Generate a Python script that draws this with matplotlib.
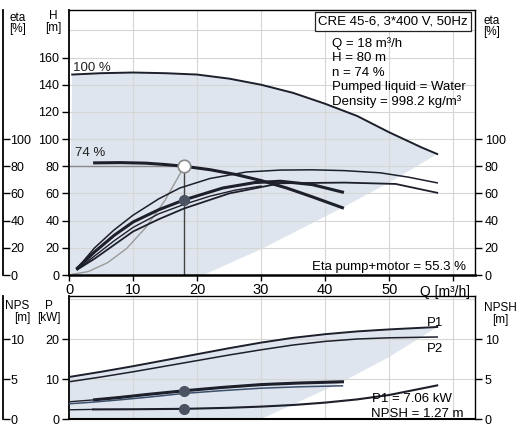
import matplotlib
matplotlib.use("Agg")
import matplotlib.pyplot as plt

plt.rcParams['font.family'] = ['Liberation Sans', 'DejaVu Sans']

W, H = 520, 434

# ---------------- head curves (m) ----------------
q_h100 = [0.5, 5, 10, 15, 20, 25, 30, 35, 40, 45, 50, 55, 57.5]
h_100 = [147.5, 148.5, 149, 148.5, 147.5, 144.5, 140, 134, 126, 117, 105, 94, 89]

q_h74 = [4, 8, 12, 15, 18, 22, 26, 30, 34, 38, 42.7]
h_74 = [82.5, 82.7, 82.3, 81.3, 80, 77.5, 74, 69.5, 64, 57.5, 49.5]

# system curve through the duty point
q_sys = [0.5, 3, 6, 9, 12, 15, 18]
h_sys = [0.5, 2.5, 9, 19.5, 35, 55, 80]

# right-hand limit of the operating area
q_edge_h = [21, 30, 40, 42.7, 50, 57.5]
h_edge = [0, 19, 43, 49.5, 68, 89]

# ---------------- efficiency curves (%) ----------------
q_eta_a = [1.3, 4, 7, 10, 14, 17.3, 22, 27.7, 33, 38, 43, 48.6, 53, 57.5]
eta_a = [5, 20, 33, 44, 56, 64, 71, 75.8, 77.2, 77.4, 76.8, 75.2, 72, 67.8]

q_eta_b = [1.3, 4, 7, 10, 14, 18, 25, 33, 43, 51, 57.5]
eta_b = [4, 12, 22, 32, 41, 49, 60, 67.5, 68, 67, 60.5]

q_eta_c = [1.3, 4, 7, 10, 14, 18, 24, 29, 33, 38, 42.7]
eta_c = [5, 17, 29, 39, 48, 55.3, 64, 68, 69, 66.5, 61]

q_eta_d = [1.3, 4, 7, 10, 14, 18, 22, 26, 30]
eta_d = [4, 14, 25, 35, 45, 52, 58, 62.5, 65.5]

# ---------------- power curves (kW) ----------------
q_p100 = [0, 5, 10, 15, 20, 25, 30, 35, 40, 45, 50, 57.5]
p1_100 = [10.5, 11.8, 13.2, 14.7, 16.2, 17.7, 19.1, 20.3, 21.2, 21.9, 22.4, 23.0]
p2_100 = [9.3, 10.5, 11.8, 13.2, 14.6, 16.0, 17.3, 18.5, 19.4, 20.0, 20.3, 20.5]

q_p74 = [0, 4, 8, 12, 18, 24, 30, 36, 42.7]
p1_74 = [4.3, 4.8, 5.4, 6.1, 7.06, 7.9, 8.6, 9.0, 9.3]
p2_74 = [3.8, 4.25, 4.8, 5.4, 6.4, 7.1, 7.7, 8.05, 8.3]

q_edge_p = [30, 42.7, 50, 57.5]
p_edge = [0, 9.3, 15.5, 23.0]

# ---------------- NPSH (m) ----------------
q_npsh = [0, 3.8, 10, 18, 25, 30, 35, 40, 45, 50, 57.5]
npsh = [1.15, 1.2, 1.22, 1.27, 1.4, 1.55, 1.75, 2.05, 2.45, 3.0, 4.2]

# duty point
q_duty, h_duty, eta_duty, p1_duty, npsh_duty = 18, 80, 55.3, 7.06, 1.27

x_ticks = [0, 10, 20, 30, 40, 50]
h_ticks = [0, 20, 40, 60, 80, 100, 120, 140, 160]
eta_ticks = [0, 20, 40, 60, 80, 100]
p_ticks = [0, 10, 20]
npsh_ticks = [0, 5, 10]

info_lines = ["Q = 18 m³/h", "H = 80 m", "n = 74 %",
              "Pumped liquid = Water", "Density = 998.2 kg/m³"]

LINE = '#1d1f2b'
SHADE = '#dfe5ee'
GRID = '#d6d6d6'
XMAX = 63.4
HMAX = 195
PMAX = 30.75


def fx(x):
    return x / W


def fy(y):
    return 1 - y / H


fig = plt.figure(figsize=(W / 100, H / 100), dpi=100)
fig.patch.set_facecolor('white')

top_rect = [fx(69), fy(275), 406 / W, 265 / H]
bot_rect = [fx(69), fy(419), 406 / W, 123 / H]

# ================= upper chart: head & efficiency =================
ax = fig.add_axes(top_rect)
ax.set_xlim(0, XMAX)
ax.set_ylim(0, HMAX)

ax.fill([0] + q_h100 + q_edge_h[::-1], [0] + h_100 + h_edge[::-1],
        color=SHADE, lw=0, zorder=0)

for q in range(10, 61, 10):
    ax.axvline(q, color=GRID, lw=0.8, zorder=1)
for h in range(20, 181, 20):
    ax.axhline(h, color=GRID, lw=0.8, zorder=1)

ax.plot(q_h100, h_100, color=LINE, lw=1.4, zorder=3)
ax.plot(q_h74, h_74, color=LINE, lw=2.2, zorder=3)
ax.plot(q_eta_a, eta_a, color=LINE, lw=1.1, zorder=3)
ax.plot(q_eta_b, eta_b, color=LINE, lw=1.3, zorder=3)
ax.plot(q_eta_d, eta_d, color=LINE, lw=1.0, zorder=3)
ax.plot(q_eta_c, eta_c, color=LINE, lw=2.2, zorder=3)
ax.plot(q_sys, h_sys, color='#9a9a9a', lw=1.0, zorder=2)
ax.plot([0, q_duty], [h_duty, h_duty], color='#8a8a8a', lw=1.0, zorder=2)
ax.plot([q_duty, q_duty], [0, h_duty], color='#444444', lw=1.0, zorder=2)
ax.plot([q_duty], [h_duty], marker='o', ms=9, mfc='white', mec='#8a8a8a',
        mew=1.2, zorder=5)
ax.plot([q_duty], [eta_duty], marker='o', ms=7, color='#4b5262', zorder=5)

ax.text(0.6, 152, "100 %", fontsize=9.5, va='center', ha='left', color='#222222')
ax.text(0.9, 90, "74 %", fontsize=9.5, va='center', ha='left', color='#222222')

ax.set_xticks(x_ticks + [60])
ax.set_xticklabels([str(v) for v in x_ticks] + [''])
ax.set_yticks(h_ticks)
ax.tick_params(axis='x', direction='out', length=4, width=1, labelsize=10.5, pad=1.5)
ax.tick_params(axis='y', direction='out', length=5, width=1, labelsize=9, pad=2)
for s in ax.spines.values():
    s.set_linewidth(1.0)
ax.spines['bottom'].set_linewidth(1.8)
ax.spines['left'].set_linewidth(1.3)

ax_r = ax.twinx()
ax_r.set_ylim(0, HMAX)
ax_r.set_yticks(eta_ticks)
ax_r.tick_params(axis='y', direction='out', length=5, width=1, labelsize=9, pad=2)
for s in ax_r.spines.values():
    s.set_visible(False)

fig.text(fx(420), fy(292), "Q [m³/h]", fontsize=10, ha='left', va='center')
fig.text(fx(312), fy(267), "Eta pump+motor = 55.3 %", fontsize=9.5,
         ha='left', va='center')
fig.text(fx(318), fy(21.5), "CRE 45-6, 3*400 V, 50Hz", fontsize=9.5,
         ha='left', va='center',
         bbox=dict(boxstyle='square,pad=0.25', fc='white', ec='#222222', lw=0.9))
for i, line in enumerate(info_lines):
    fig.text(fx(332), fy(44 + 14.4 * i), line, fontsize=9.5, ha='left', va='center')

# ================= lower chart: power & NPSH =================
bx = fig.add_axes(bot_rect)
bx.set_xlim(0, XMAX)
bx.set_ylim(0, PMAX)

bx.fill(q_p100 + q_edge_p[::-1] + [0], p1_100 + p_edge[::-1] + [0],
        color=SHADE, lw=0, zorder=0)
for q in range(10, 61, 10):
    bx.axvline(q, color=GRID, lw=0.8, zorder=1)
for p in (10, 20, 30):
    bx.axhline(p, color=GRID, lw=0.8, zorder=1)

bx.plot(q_p100, p1_100, color=LINE, lw=1.4, zorder=3)
bx.plot(q_p100, p2_100, color=LINE, lw=1.1, zorder=3)
bx.plot(q_p74[:2], p1_74[:2], color=LINE, lw=1.0, zorder=3)
bx.plot(q_p74[1:], p1_74[1:], color=LINE, lw=2.2, zorder=3)
bx.plot(q_p74, p2_74, color='#3b4f6b', lw=1.1, zorder=3)
bx.plot([q_duty], [p1_duty], marker='o', ms=7, color='#4b5262', zorder=5)

bx.set_xticks([])
bx.set_yticks(p_ticks)
bx.tick_params(axis='y', direction='out', length=5, width=1, labelsize=9, pad=2)
for s in bx.spines.values():
    s.set_linewidth(1.0)
bx.spines['bottom'].set_linewidth(1.5)
bx.spines['left'].set_linewidth(1.3)

bn = bx.twinx()
bn.set_ylim(0, PMAX / 2)
bn.set_yticks(npsh_ticks)
bn.tick_params(axis='y', direction='out', length=5, width=1, labelsize=9, pad=2)
for s in bn.spines.values():
    s.set_visible(False)
bn.plot(q_npsh[:2], npsh[:2], color=LINE, lw=1.0, zorder=3)
bn.plot(q_npsh[1:], npsh[1:], color=LINE, lw=1.5, zorder=3)
bn.plot([q_duty], [npsh_duty], marker='o', ms=7, color='#4b5262', zorder=5)

fig.text(fx(427), fy(323), "P1", fontsize=9.5, ha='left', va='center')
fig.text(fx(427), fy(349), "P2", fontsize=9.5, ha='left', va='center')
fig.text(fx(372), fy(399), "P1 = 7.06 kW", fontsize=9.5, ha='left', va='center')
fig.text(fx(371), fy(414), "NPSH = 1.27 m", fontsize=9.5, ha='left', va='center')


# ================= outer left scales =================
def outer_scale(rect, top, ticks):
    a = fig.add_axes(rect)
    a.set_ylim(0, top)
    a.set_yticks(ticks)
    a.patch.set_visible(False)
    for s in ('top', 'right', 'bottom'):
        a.spines[s].set_visible(False)
    a.spines['left'].set_linewidth(1.3)
    a.xaxis.set_visible(False)
    a.tick_params(axis='y', direction='in', length=5, width=1, left=True,
                  right=False, labelleft=False, labelright=True, labelsize=9, pad=5)
    return a


outer_scale([fx(3), fy(275), 0.0005, 265 / H], HMAX, eta_ticks)
outer_scale([fx(3), fy(419), 0.0005, 123 / H], PMAX / 2, npsh_ticks)

# axis captions
cap = dict(fontsize=8.5, ha='center', va='center')
fig.text(fx(18), fy(18), "eta", **cap)
fig.text(fx(18), fy(29), "[%]", **cap)
fig.text(fx(53), fy(16), "H", **cap)
fig.text(fx(53), fy(28), "[m]", **cap)
fig.text(fx(492), fy(21), "eta", **cap)
fig.text(fx(492), fy(32), "[%]", **cap)
fig.text(fx(17), fy(306), "NPS", **cap)
fig.text(fx(22), fy(318), "[m]", **cap)
fig.text(fx(49), fy(306), "P", **cap)
fig.text(fx(49), fy(318), "[kW]", **cap)
fig.text(fx(500), fy(308), "NPSH", **cap)
fig.text(fx(500), fy(320), "[m]", **cap)

fig.savefig("out.png", dpi=100, facecolor='white')
